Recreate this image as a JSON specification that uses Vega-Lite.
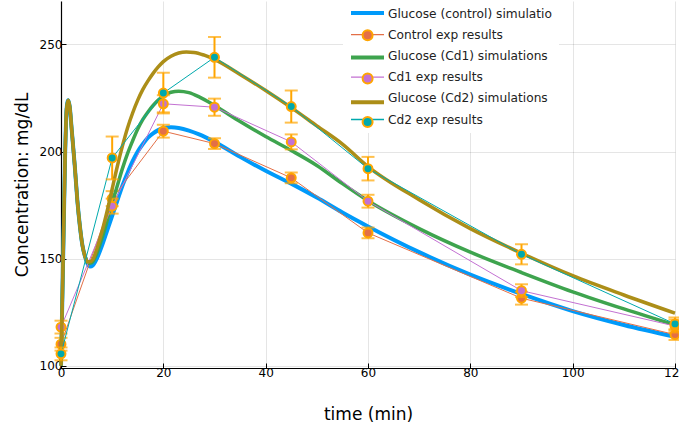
{
  "$schema": "https://vega.github.io/schema/vega-lite/v6.json",
  "width": 614,
  "height": 367,
  "autosize": {"type": "none"},
  "padding": {"left": 61, "top": 1, "right": 4, "bottom": 60},
  "background": "white",
  "config": {
    "font": "DejaVu Sans",
    "view": {"stroke": null},
    "axis": {
      "labelFont": "DejaVu Sans", "labelFontSize": 12, "labelColor": "#000",
      "titleFont": "DejaVu Sans", "titleFontSize": 17, "titleFontWeight": "normal", "titleColor": "#000",
      "domainColor": "#000", "domainWidth": 1.2, "tickColor": "#000", "tickSize": -5, "tickWidth": 1,
      "gridColor": "#000", "gridOpacity": 0.1, "gridWidth": 1
    }
  },
  "datasets": {
    "sim": [
      {"series": "Glucose (control) simulations", "t": 0, "v": 100},
      {"series": "Glucose (control) simulations", "t": 0.4, "v": 148},
      {"series": "Glucose (control) simulations", "t": 0.8, "v": 198},
      {"series": "Glucose (control) simulations", "t": 1.1, "v": 220},
      {"series": "Glucose (control) simulations", "t": 1.4, "v": 224},
      {"series": "Glucose (control) simulations", "t": 1.7, "v": 221},
      {"series": "Glucose (control) simulations", "t": 2.1, "v": 210},
      {"series": "Glucose (control) simulations", "t": 2.7, "v": 193},
      {"series": "Glucose (control) simulations", "t": 3.2, "v": 177},
      {"series": "Glucose (control) simulations", "t": 3.7, "v": 165},
      {"series": "Glucose (control) simulations", "t": 4.2, "v": 156},
      {"series": "Glucose (control) simulations", "t": 4.7, "v": 151},
      {"series": "Glucose (control) simulations", "t": 5.2, "v": 147.5},
      {"series": "Glucose (control) simulations", "t": 5.7, "v": 146.3},
      {"series": "Glucose (control) simulations", "t": 6.2, "v": 146.8},
      {"series": "Glucose (control) simulations", "t": 7, "v": 150},
      {"series": "Glucose (control) simulations", "t": 8, "v": 156},
      {"series": "Glucose (control) simulations", "t": 9, "v": 163},
      {"series": "Glucose (control) simulations", "t": 10, "v": 170},
      {"series": "Glucose (control) simulations", "t": 11, "v": 177},
      {"series": "Glucose (control) simulations", "t": 12, "v": 184},
      {"series": "Glucose (control) simulations", "t": 13, "v": 190},
      {"series": "Glucose (control) simulations", "t": 14, "v": 195.5},
      {"series": "Glucose (control) simulations", "t": 15, "v": 200},
      {"series": "Glucose (control) simulations", "t": 16, "v": 203.5},
      {"series": "Glucose (control) simulations", "t": 17, "v": 206.5},
      {"series": "Glucose (control) simulations", "t": 18, "v": 208.5},
      {"series": "Glucose (control) simulations", "t": 19, "v": 210},
      {"series": "Glucose (control) simulations", "t": 20, "v": 211},
      {"series": "Glucose (control) simulations", "t": 21.5, "v": 211.3},
      {"series": "Glucose (control) simulations", "t": 23, "v": 211},
      {"series": "Glucose (control) simulations", "t": 25, "v": 209.8},
      {"series": "Glucose (control) simulations", "t": 27, "v": 208},
      {"series": "Glucose (control) simulations", "t": 30, "v": 204.5},
      {"series": "Glucose (control) simulations", "t": 35, "v": 197.5},
      {"series": "Glucose (control) simulations", "t": 40, "v": 191},
      {"series": "Glucose (control) simulations", "t": 45, "v": 185},
      {"series": "Glucose (control) simulations", "t": 50, "v": 178.5},
      {"series": "Glucose (control) simulations", "t": 55, "v": 171.5},
      {"series": "Glucose (control) simulations", "t": 60, "v": 165},
      {"series": "Glucose (control) simulations", "t": 70, "v": 153},
      {"series": "Glucose (control) simulations", "t": 80, "v": 142.5},
      {"series": "Glucose (control) simulations", "t": 90, "v": 133.5},
      {"series": "Glucose (control) simulations", "t": 100, "v": 125.5},
      {"series": "Glucose (control) simulations", "t": 110, "v": 119},
      {"series": "Glucose (control) simulations", "t": 120, "v": 113.5},

      {"series": "Glucose (Cd1) simulations", "t": 0, "v": 100},
      {"series": "Glucose (Cd1) simulations", "t": 0.4, "v": 148},
      {"series": "Glucose (Cd1) simulations", "t": 0.8, "v": 198},
      {"series": "Glucose (Cd1) simulations", "t": 1.1, "v": 220},
      {"series": "Glucose (Cd1) simulations", "t": 1.4, "v": 224},
      {"series": "Glucose (Cd1) simulations", "t": 1.7, "v": 221},
      {"series": "Glucose (Cd1) simulations", "t": 2.1, "v": 210},
      {"series": "Glucose (Cd1) simulations", "t": 2.7, "v": 193},
      {"series": "Glucose (Cd1) simulations", "t": 3.2, "v": 177},
      {"series": "Glucose (Cd1) simulations", "t": 3.7, "v": 165},
      {"series": "Glucose (Cd1) simulations", "t": 4.2, "v": 156},
      {"series": "Glucose (Cd1) simulations", "t": 4.7, "v": 151},
      {"series": "Glucose (Cd1) simulations", "t": 5.2, "v": 148},
      {"series": "Glucose (Cd1) simulations", "t": 5.7, "v": 147.8},
      {"series": "Glucose (Cd1) simulations", "t": 6.2, "v": 148.5},
      {"series": "Glucose (Cd1) simulations", "t": 7, "v": 152.5},
      {"series": "Glucose (Cd1) simulations", "t": 8, "v": 159.5},
      {"series": "Glucose (Cd1) simulations", "t": 9, "v": 167.5},
      {"series": "Glucose (Cd1) simulations", "t": 10, "v": 176},
      {"series": "Glucose (Cd1) simulations", "t": 11, "v": 184},
      {"series": "Glucose (Cd1) simulations", "t": 12, "v": 192},
      {"series": "Glucose (Cd1) simulations", "t": 13, "v": 199},
      {"series": "Glucose (Cd1) simulations", "t": 14, "v": 205},
      {"series": "Glucose (Cd1) simulations", "t": 15, "v": 210.5},
      {"series": "Glucose (Cd1) simulations", "t": 16, "v": 215},
      {"series": "Glucose (Cd1) simulations", "t": 17, "v": 218.5},
      {"series": "Glucose (Cd1) simulations", "t": 18, "v": 221.5},
      {"series": "Glucose (Cd1) simulations", "t": 19, "v": 224},
      {"series": "Glucose (Cd1) simulations", "t": 20, "v": 226},
      {"series": "Glucose (Cd1) simulations", "t": 21.5, "v": 227.7},
      {"series": "Glucose (Cd1) simulations", "t": 23, "v": 228.2},
      {"series": "Glucose (Cd1) simulations", "t": 25, "v": 227.5},
      {"series": "Glucose (Cd1) simulations", "t": 27, "v": 225.5},
      {"series": "Glucose (Cd1) simulations", "t": 30, "v": 221.5},
      {"series": "Glucose (Cd1) simulations", "t": 35, "v": 214},
      {"series": "Glucose (Cd1) simulations", "t": 40, "v": 207},
      {"series": "Glucose (Cd1) simulations", "t": 45, "v": 200.5},
      {"series": "Glucose (Cd1) simulations", "t": 50, "v": 193.5},
      {"series": "Glucose (Cd1) simulations", "t": 55, "v": 185},
      {"series": "Glucose (Cd1) simulations", "t": 60, "v": 177},
      {"series": "Glucose (Cd1) simulations", "t": 70, "v": 164},
      {"series": "Glucose (Cd1) simulations", "t": 80, "v": 153},
      {"series": "Glucose (Cd1) simulations", "t": 90, "v": 143.5},
      {"series": "Glucose (Cd1) simulations", "t": 100, "v": 134.5},
      {"series": "Glucose (Cd1) simulations", "t": 110, "v": 126.5},
      {"series": "Glucose (Cd1) simulations", "t": 120, "v": 119},

      {"series": "Glucose (Cd2) simulations", "t": 0, "v": 100},
      {"series": "Glucose (Cd2) simulations", "t": 0.4, "v": 148},
      {"series": "Glucose (Cd2) simulations", "t": 0.8, "v": 198},
      {"series": "Glucose (Cd2) simulations", "t": 1.1, "v": 220},
      {"series": "Glucose (Cd2) simulations", "t": 1.4, "v": 224},
      {"series": "Glucose (Cd2) simulations", "t": 1.7, "v": 221},
      {"series": "Glucose (Cd2) simulations", "t": 2.1, "v": 210},
      {"series": "Glucose (Cd2) simulations", "t": 2.7, "v": 193},
      {"series": "Glucose (Cd2) simulations", "t": 3.2, "v": 177},
      {"series": "Glucose (Cd2) simulations", "t": 3.7, "v": 165},
      {"series": "Glucose (Cd2) simulations", "t": 4.2, "v": 156},
      {"series": "Glucose (Cd2) simulations", "t": 4.7, "v": 151},
      {"series": "Glucose (Cd2) simulations", "t": 5.2, "v": 148.5},
      {"series": "Glucose (Cd2) simulations", "t": 5.7, "v": 148.5},
      {"series": "Glucose (Cd2) simulations", "t": 6.2, "v": 149.5},
      {"series": "Glucose (Cd2) simulations", "t": 7, "v": 154.5},
      {"series": "Glucose (Cd2) simulations", "t": 8, "v": 162.5},
      {"series": "Glucose (Cd2) simulations", "t": 9, "v": 172},
      {"series": "Glucose (Cd2) simulations", "t": 10, "v": 182.5},
      {"series": "Glucose (Cd2) simulations", "t": 11, "v": 193},
      {"series": "Glucose (Cd2) simulations", "t": 12, "v": 202.5},
      {"series": "Glucose (Cd2) simulations", "t": 13, "v": 211},
      {"series": "Glucose (Cd2) simulations", "t": 14, "v": 218},
      {"series": "Glucose (Cd2) simulations", "t": 15, "v": 224},
      {"series": "Glucose (Cd2) simulations", "t": 16, "v": 229},
      {"series": "Glucose (Cd2) simulations", "t": 17, "v": 233},
      {"series": "Glucose (Cd2) simulations", "t": 18, "v": 236.5},
      {"series": "Glucose (Cd2) simulations", "t": 19, "v": 239.5},
      {"series": "Glucose (Cd2) simulations", "t": 20, "v": 242},
      {"series": "Glucose (Cd2) simulations", "t": 21.5, "v": 244.5},
      {"series": "Glucose (Cd2) simulations", "t": 23, "v": 246},
      {"series": "Glucose (Cd2) simulations", "t": 24.5, "v": 246.5},
      {"series": "Glucose (Cd2) simulations", "t": 26, "v": 246.3},
      {"series": "Glucose (Cd2) simulations", "t": 28, "v": 245},
      {"series": "Glucose (Cd2) simulations", "t": 30, "v": 243},
      {"series": "Glucose (Cd2) simulations", "t": 35, "v": 236},
      {"series": "Glucose (Cd2) simulations", "t": 40, "v": 228.5},
      {"series": "Glucose (Cd2) simulations", "t": 45, "v": 220.5},
      {"series": "Glucose (Cd2) simulations", "t": 50, "v": 212},
      {"series": "Glucose (Cd2) simulations", "t": 55, "v": 203.5},
      {"series": "Glucose (Cd2) simulations", "t": 60, "v": 193},
      {"series": "Glucose (Cd2) simulations", "t": 70, "v": 177.5},
      {"series": "Glucose (Cd2) simulations", "t": 80, "v": 164},
      {"series": "Glucose (Cd2) simulations", "t": 90, "v": 152.5},
      {"series": "Glucose (Cd2) simulations", "t": 100, "v": 142},
      {"series": "Glucose (Cd2) simulations", "t": 110, "v": 133},
      {"series": "Glucose (Cd2) simulations", "t": 120, "v": 124.5}
    ],
    "exp": [
      {"series": "Control exp results", "t": 0, "v": 110, "err": 3},
      {"series": "Control exp results", "t": 10, "v": 178, "err": 3.5},
      {"series": "Control exp results", "t": 20, "v": 209.5, "err": 3},
      {"series": "Control exp results", "t": 30, "v": 203.7, "err": 2.5},
      {"series": "Control exp results", "t": 45, "v": 187.7, "err": 2.5},
      {"series": "Control exp results", "t": 60, "v": 162, "err": 2.5},
      {"series": "Control exp results", "t": 90, "v": 131.5, "err": 3},
      {"series": "Control exp results", "t": 120, "v": 114.5, "err": 2.5},
      {"series": "Cd1 exp results", "t": 0, "v": 118, "err": 3},
      {"series": "Cd1 exp results", "t": 10, "v": 174.5, "err": 3.5},
      {"series": "Cd1 exp results", "t": 20, "v": 222.3, "err": 4},
      {"series": "Cd1 exp results", "t": 30, "v": 220.7, "err": 4},
      {"series": "Cd1 exp results", "t": 45, "v": 204.5, "err": 3.5},
      {"series": "Cd1 exp results", "t": 60, "v": 176.8, "err": 3},
      {"series": "Cd1 exp results", "t": 90, "v": 135, "err": 3},
      {"series": "Cd1 exp results", "t": 120, "v": 118.5, "err": 3},
      {"series": "Cd2 exp results", "t": 0, "v": 105.5, "err": 3},
      {"series": "Cd2 exp results", "t": 10, "v": 197, "err": 10},
      {"series": "Cd2 exp results", "t": 20, "v": 227.3, "err": 9.5},
      {"series": "Cd2 exp results", "t": 30, "v": 244, "err": 9.5},
      {"series": "Cd2 exp results", "t": 45, "v": 221, "err": 7.5},
      {"series": "Cd2 exp results", "t": 60, "v": 192, "err": 5.5},
      {"series": "Cd2 exp results", "t": 90, "v": 152, "err": 4.7},
      {"series": "Cd2 exp results", "t": 120, "v": 119.5, "err": 3}
    ]
  },
  "encoding": {
    "x": {"field": "t", "type": "quantitative", "title": "time (min)",
      "scale": {"domain": [0, 120], "nice": false, "zero": false},
      "axis": {"values": [0, 20, 40, 60, 80, 100, 120], "labelPadding": 4, "titlePadding": 28, "labelFlush": false}},
    "y": {"field": "v", "type": "quantitative", "title": "Concentration: mg/dL",
      "scale": {"domain": [98.9, 270.3], "nice": false, "zero": false},
      "axis": {"values": [100, 150, 200, 250], "labelPadding": 4, "titlePadding": 8}}
  },
  "layer": [
    {"data": {"name": "exp"}, "transform": [{"filter": {"field": "series", "equal": "none"}}],
     "mark": {"type": "line", "strokeWidth": 1},
     "encoding": {"stroke": {"field": "series", "type": "nominal",
       "scale": {"domain": ["Glucose (control) simulations", "Control exp results", "Glucose (Cd1) simulations", "Cd1 exp results", "Glucose (Cd2) simulations", "Cd2 exp results"], "range": ["#ffffff", "#E36F47", "#ffffff", "#C371D2", "#ffffff", "#00A9AD"]},
       "legend": {"title": null, "orient": "none", "legendX": 282, "legendY": -1, "padding": 7, "fillColor": "#ffffff",
         "symbolType": "M-3,0H3", "symbolSize": 121, "symbolOffset": 11, "labelOffset": 14, "symbolStrokeWidth": 1.3,
         "labelFont": "DejaVu Sans", "labelFontSize": 12.2, "labelColor": "#222", "labelLimit": 400, "rowPadding": 8.2,
         "labelExpr": "datum.label == 'Glucose (control) simulations' ? 'Glucose (control) simulatio' : datum.label"}}}},

    {"data": {"name": "sim"}, "transform": [{"filter": {"field": "series", "equal": "Glucose (control) simulations"}}],
     "mark": {"type": "line", "strokeWidth": 4, "interpolate": "monotone"},
     "encoding": {"color": {"field": "series", "type": "nominal",
       "scale": {"domain": ["Glucose (control) simulations", "Glucose (Cd1) simulations", "Glucose (Cd2) simulations"], "range": ["#009AFA", "#3EA44E", "#AC8E18"]},
       "legend": {"title": null, "orient": "none", "legendX": 281, "legendY": -2.5, "padding": 7,
         "symbolType": "M-3,0H3", "symbolSize": 121, "symbolOffset": 11, "labelOffset": 14, "symbolStrokeWidth": 4,
         "labelFont": "DejaVu Sans", "labelFontSize": 12.2, "labelOpacity": 0, "labelLimit": 400, "rowPadding": 27.6}}}},
    {"data": {"name": "exp"}, "transform": [{"filter": {"field": "series", "equal": "Control exp results"}}],
     "mark": {"type": "line", "strokeWidth": 1},
     "encoding": {"stroke": {"field": "series", "type": "nominal"}}},
    {"data": {"name": "exp"}, "transform": [{"filter": {"field": "series", "equal": "Control exp results"}}],
     "mark": {"type": "errorbar", "ticks": true, "size": 13, "thickness": 2, "color": "#FFA500"},
     "encoding": {"yError": {"field": "err"}}},
    {"data": {"name": "exp"}, "transform": [{"filter": {"field": "series", "equal": "Control exp results"}}],
     "mark": {"type": "circle", "size": 80, "stroke": "#FFA500", "strokeWidth": 2, "opacity": 1},
     "encoding": {"fill": {"field": "series", "type": "nominal",
       "scale": {"domain": ["Control exp results", "Cd1 exp results", "Cd2 exp results"], "range": ["#E36F47", "#C371D2", "#00A9AD"]},
       "legend": {"title": null, "orient": "none", "legendX": 282, "legendY": 21.2, "padding": 7,
         "symbolType": "circle", "symbolSize": 100, "symbolOffset": 11.5, "labelOffset": 14,
         "labelFont": "DejaVu Sans", "labelFontSize": 12.2, "labelOpacity": 0, "labelLimit": 400, "rowPadding": 24.3,
         "symbolStrokeColor": "#FFA500", "symbolStrokeWidth": 2}}}},

    {"data": {"name": "sim"}, "transform": [{"filter": {"field": "series", "equal": "Glucose (Cd1) simulations"}}],
     "mark": {"type": "line", "strokeWidth": 3.5, "interpolate": "monotone"},
     "encoding": {"color": {"field": "series", "type": "nominal"}}},
    {"data": {"name": "exp"}, "transform": [{"filter": {"field": "series", "equal": "Cd1 exp results"}}],
     "mark": {"type": "line", "strokeWidth": 1},
     "encoding": {"stroke": {"field": "series", "type": "nominal"}}},
    {"data": {"name": "exp"}, "transform": [{"filter": {"field": "series", "equal": "Cd1 exp results"}}],
     "mark": {"type": "errorbar", "ticks": true, "size": 13, "thickness": 2, "color": "#FFA500"},
     "encoding": {"yError": {"field": "err"}}},
    {"data": {"name": "exp"}, "transform": [{"filter": {"field": "series", "equal": "Cd1 exp results"}}],
     "mark": {"type": "circle", "size": 80, "stroke": "#FFA500", "strokeWidth": 2, "opacity": 1},
     "encoding": {"fill": {"field": "series", "type": "nominal"}}},

    {"data": {"name": "sim"}, "transform": [{"filter": {"field": "series", "equal": "Glucose (Cd2) simulations"}}],
     "mark": {"type": "line", "strokeWidth": 3.5, "interpolate": "monotone"},
     "encoding": {"color": {"field": "series", "type": "nominal"}}},
    {"data": {"name": "exp"}, "transform": [{"filter": {"field": "series", "equal": "Cd2 exp results"}}],
     "mark": {"type": "line", "strokeWidth": 1},
     "encoding": {"stroke": {"field": "series", "type": "nominal"}}},
    {"data": {"name": "exp"}, "transform": [{"filter": {"field": "series", "equal": "Cd2 exp results"}}],
     "mark": {"type": "errorbar", "ticks": true, "size": 13, "thickness": 2, "color": "#FFA500"},
     "encoding": {"yError": {"field": "err"}}},
    {"data": {"name": "exp"}, "transform": [{"filter": {"field": "series", "equal": "Cd2 exp results"}}],
     "mark": {"type": "circle", "size": 80, "stroke": "#FFA500", "strokeWidth": 2, "opacity": 1},
     "encoding": {"fill": {"field": "series", "type": "nominal"}}}
  ]
}
